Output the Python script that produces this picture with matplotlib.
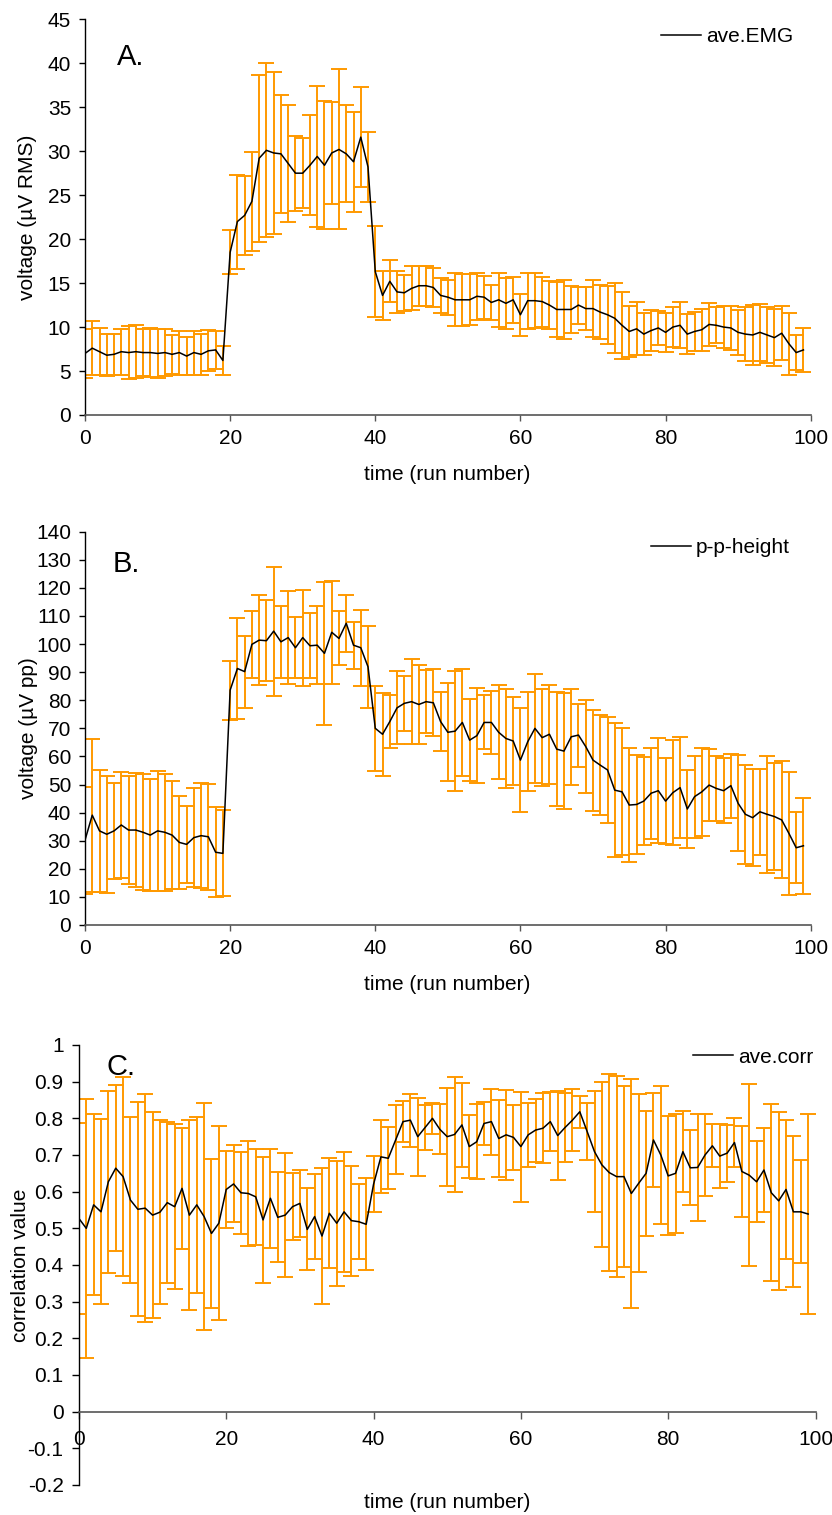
import numpy as np
import matplotlib
matplotlib.use("Agg")
import matplotlib.pyplot as plt

plt.rcParams["font.family"] = ["Liberation Sans", "DejaVu Sans"]
plt.rcParams["font.size"] = 15

W, H = 832, 1515
ORANGE = "#ff9900"

# ---- data ----
emg_mean = [7.0, 7.6, 7.2, 6.8, 6.9, 7.2, 7.1, 7.2, 7.1, 7.1,
            7.0, 7.1, 6.9, 7.1, 6.7, 7.1, 6.9, 7.3, 7.4, 6.2,
            18.5, 22.0, 22.7, 24.3, 29.2, 30.1, 29.8, 29.7, 28.6, 27.5,
            27.5, 28.4, 29.4, 28.4, 29.8, 30.2, 29.7, 28.8, 31.6, 28.2,
            16.3, 13.6, 15.2, 14.0, 13.9, 14.4, 14.7, 14.7, 14.5, 13.6,
            13.4, 13.1, 13.1, 13.1, 13.5, 13.4, 12.8, 13.1, 12.7, 13.1,
            11.4, 13.0, 13.0, 12.9, 12.5, 12.0, 12.0, 12.0, 12.5, 12.1,
            12.1, 11.7, 11.4, 11.0, 10.2, 9.5, 9.8, 9.2, 9.6, 9.9,
            9.4, 10.0, 10.2, 9.2, 9.5, 9.7, 10.3, 10.2, 10.0, 9.9,
            9.4, 9.2, 9.1, 9.4, 9.1, 8.8, 9.3, 8.1, 7.1, 7.4]
emg_err = [2.8, 3.1, 2.7, 2.4, 2.3, 2.6, 3.0, 3.0, 2.65, 2.8,
           2.77, 2.65, 2.2, 2.5, 2.2, 2.5, 2.35, 2.35, 2.15, 1.65,
           2.5, 5.35, 4.5, 5.6, 9.5, 9.9, 9.25, 6.7, 6.6, 4.25,
           4.0, 5.7, 8.0, 7.3, 5.85, 9.1, 5.5, 5.7, 5.7, 4.0,
           5.2, 2.75, 2.4, 2.4, 2.05, 2.5, 2.3, 2.3, 2.2, 2.0,
           2.0, 3.0, 2.95, 2.9, 2.7, 2.45, 2.0, 3.05, 2.9, 2.6,
           2.4, 3.2, 3.1, 2.85, 2.7, 3.1, 3.4, 2.65, 2.1, 2.45,
           3.2, 3.05, 3.3, 4.0, 3.8, 2.9, 3.0, 2.4, 2.3, 1.9,
           2.2, 2.25, 2.6, 2.3, 2.2, 2.4, 2.4, 2.05, 2.35, 2.5,
           2.55, 3.05, 3.45, 3.25, 3.2, 3.25, 3.1, 3.5, 2.0, 2.5]

pp_mean = [30.2, 39.1, 33.5, 32.3, 33.5, 35.6, 33.8, 33.8, 33.0, 32.0,
           33.5, 33.0, 32.0, 29.4, 28.7, 31.1, 31.8, 31.4, 25.9, 25.5,
           83.6, 91.3, 90.2, 99.9, 101.4, 101.2, 104.6, 100.8, 102.3, 98.7,
           102.3, 99.4, 99.6, 96.7, 104.2, 102.0, 107.4, 99.6, 98.7, 91.9,
           70.0, 67.9, 72.4, 77.3, 78.9, 79.5, 78.5, 79.5, 79.1, 72.4,
           68.6, 69.0, 72.1, 65.8, 67.4, 72.1, 72.1, 68.6, 66.4, 65.5,
           58.7, 65.2, 70.0, 66.7, 67.9, 62.6, 61.9, 67.0, 67.6, 63.5,
           58.7, 56.9, 55.2, 48.0, 47.4, 42.7, 42.9, 44.1, 46.9, 47.8,
           44.1, 47.1, 48.9, 41.3, 45.7, 47.4, 49.8, 48.6, 47.8, 49.6,
           43.3, 39.4, 38.2, 40.3, 39.4, 38.6, 37.4, 32.6, 27.5, 28.2]
pp_err = [19.0, 27.2, 21.8, 20.9, 17.2, 18.7, 19.3, 20.3, 20.6, 20.0,
          21.4, 20.8, 19.3, 16.5, 13.8, 17.7, 18.7, 18.8, 16.0, 15.3,
          10.5, 17.9, 12.8, 11.9, 15.9, 14.5, 23.0, 12.9, 16.5, 10.8,
          17.1, 11.6, 13.9, 25.5, 18.3, 9.6, 10.1, 8.4, 13.6, 14.5,
          15.1, 14.8, 9.5, 13.0, 9.9, 15.2, 14.1, 11.3, 12.0, 10.4,
          17.5, 21.4, 19.0, 14.6, 17.0, 9.6, 11.3, 16.8, 17.5, 15.5,
          18.4, 17.6, 19.5, 17.2, 17.6, 20.2, 20.6, 17.0, 11.2, 16.6,
          18.0, 17.7, 19.0, 23.8, 22.6, 20.3, 17.6, 15.7, 16.2, 18.7,
          15.3, 18.7, 18.1, 13.9, 14.6, 15.7, 12.8, 11.7, 11.6, 11.4,
          17.1, 17.6, 17.3, 15.3, 20.8, 19.1, 20.8, 21.9, 12.6, 17.1]

corr_mean = [0.527, 0.50, 0.564, 0.545, 0.627, 0.664, 0.641, 0.577, 0.552, 0.555,
             0.536, 0.544, 0.570, 0.559, 0.609, 0.536, 0.564, 0.532, 0.486, 0.514,
             0.606, 0.621, 0.597, 0.595, 0.586, 0.523, 0.582, 0.530, 0.536, 0.559,
             0.568, 0.497, 0.532, 0.479, 0.541, 0.514, 0.545, 0.521, 0.518, 0.511,
             0.62, 0.695, 0.691, 0.741, 0.791, 0.795, 0.75, 0.775, 0.80, 0.77,
             0.75, 0.756, 0.782, 0.723, 0.736, 0.786, 0.791, 0.745, 0.755, 0.748,
             0.723, 0.755, 0.768, 0.773, 0.791, 0.753, 0.775, 0.795, 0.818, 0.764,
             0.709, 0.673, 0.652, 0.641, 0.641, 0.595, 0.623, 0.65, 0.741, 0.70,
             0.643, 0.65, 0.709, 0.665, 0.666, 0.70, 0.725, 0.697, 0.705, 0.734,
             0.655, 0.645, 0.627, 0.659, 0.597, 0.575, 0.606, 0.545, 0.545, 0.539]
corr_err = [0.26, 0.354, 0.247, 0.252, 0.248, 0.227, 0.272, 0.226, 0.292, 0.31,
            0.28, 0.251, 0.22, 0.225, 0.165, 0.26, 0.24, 0.31, 0.203, 0.264,
            0.106, 0.105, 0.112, 0.143, 0.131, 0.172, 0.135, 0.123, 0.17, 0.092,
            0.092, 0.112, 0.115, 0.185, 0.15, 0.17, 0.163, 0.15, 0.102, 0.126,
            0.076, 0.1, 0.085, 0.094, 0.056, 0.072, 0.106, 0.062, 0.043, 0.068,
            0.134, 0.157, 0.114, 0.086, 0.102, 0.058, 0.09, 0.106, 0.123, 0.089,
            0.15, 0.087, 0.086, 0.096, 0.08, 0.122, 0.093, 0.084, 0.043, 0.077,
            0.165, 0.225, 0.268, 0.274, 0.247, 0.311, 0.242, 0.17, 0.128, 0.189,
            0.162, 0.162, 0.11, 0.102, 0.147, 0.111, 0.059, 0.087, 0.078, 0.066,
            0.125, 0.249, 0.11, 0.115, 0.241, 0.243, 0.19, 0.206, 0.14, 0.273]

run = np.arange(len(emg_mean))
x_ticks = [0, 20, 40, 60, 80, 100]
emg_ticks = list(range(0, 50, 5))
pp_ticks = list(range(0, 150, 10))
corr_ticks = [-0.2, -0.1, 0, 0.1, 0.2, 0.3, 0.4, 0.5, 0.6, 0.7, 0.8, 0.9, 1]
corr_ticklabels = ["-0.2", "-0.1", "0", "0.1", "0.2", "0.3", "0.4", "0.5",
                   "0.6", "0.7", "0.8", "0.9", "1"]


def rect(l, t, r, b):
    return [l / W, 1 - b / H, (r - l) / W, (b - t) / H]


def ftext(fig, x, y, s, **kw):
    fig.text(x / W, 1 - y / H, s, **kw)


def panel(ax, mean, err, label, ylim, yticks, legend_xy, xpad=6):
    ax.errorbar(run, mean, yerr=err, fmt="none", ecolor=ORANGE,
                elinewidth=1.4, capsize=5.5, capthick=1.4, zorder=2)
    ax.plot(run, mean, color="black", lw=1.1, label=label, zorder=3)
    ax.set_xlim(0, 100)
    ax.set_ylim(*ylim)
    ax.set_xticks(x_ticks)
    ax.set_yticks(yticks)
    for s in ("top", "right"):
        ax.spines[s].set_visible(False)
    ax.spines["left"].set_color("black")
    ax.spines["bottom"].set_color("#555555")
    ax.spines["left"].set_linewidth(1.0)
    ax.spines["bottom"].set_linewidth(1.2)
    ax.tick_params(axis="y", direction="out", length=4, width=1, pad=6,
                   labelsize=15)
    ax.tick_params(axis="x", direction="out", length=4, width=1, pad=xpad,
                   labelsize=15, color="#555555")
    ax.legend(loc="center right", bbox_to_anchor=legend_xy, frameon=False,
              fontsize=15, handlelength=1.9, handletextpad=0.25,
              borderpad=0, borderaxespad=0)


fig = plt.figure(figsize=(W / 100, H / 100), dpi=100)

# A. average EMG
axA = fig.add_axes(rect(85, 19.3, 810.7, 415))
panel(axA, emg_mean, emg_err, "ave.EMG", (0, 45), emg_ticks, (0.9756, 0.957))
ftext(fig, 117, 57, "A.", fontsize=21, va="center")
ftext(fig, 447.5, 475, "time (run number)", ha="center", va="center")
ftext(fig, 28, 217, "voltage (\u00b5V RMS)", ha="center", va="center",
      rotation=90)

# B. peak-to-peak height
axB = fig.add_axes(rect(85, 531.7, 810.7, 925))
panel(axB, pp_mean, pp_err, "p-p-height", (0, 140), pp_ticks, (0.9715, 0.9586))
ftext(fig, 113, 564, "B.", fontsize=21, va="center")
ftext(fig, 447.5, 985, "time (run number)", ha="center", va="center")
ftext(fig, 28, 728, "voltage (\u00b5V pp)", ha="center", va="center",
      rotation=90)

# C. average correlation
axC = fig.add_axes(rect(78.9, 1045, 815.5, 1485))
panel(axC, corr_mean, corr_err, "ave.corr", (-0.2, 1), corr_ticks,
      (0.9966, 0.9727), xpad=8)
axC.set_yticklabels(corr_ticklabels)
axC.spines["bottom"].set_position(("data", 0))
axC.tick_params(axis="both", length=5)
ftext(fig, 107, 1067, "C.", fontsize=21, va="center")
ftext(fig, 447, 1503, "time (run number)", ha="center", va="center")
ftext(fig, 21, 1265, "correlation value", ha="center", va="center",
      rotation=90)

fig.savefig("out.png", dpi=100)
print("Saved: out.png")
